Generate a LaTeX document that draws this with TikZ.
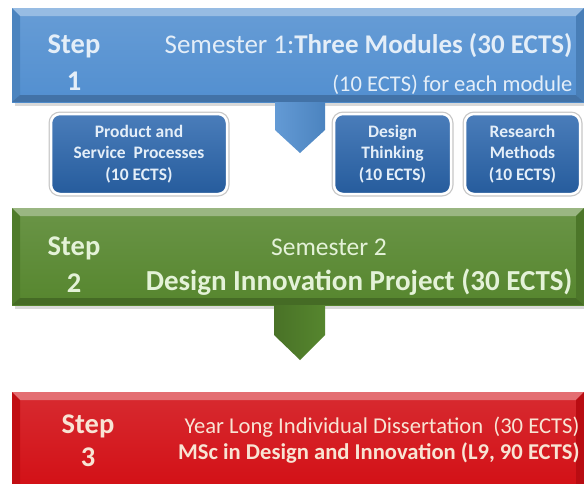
\documentclass[tikz,border=0pt]{standalone}
\usepackage{fontspec}
\setmainfont{Carlito}
\usepackage{xcolor}
\usetikzlibrary{calc}

\definecolor{bandblue}{RGB}{82,143,208}
\definecolor{modblue}{RGB}{42,102,174}
\definecolor{bandgreen}{RGB}{86,134,46}
\definecolor{bandred}{RGB}{210,14,20}
\definecolor{bluetext}{RGB}{228,238,248}
\definecolor{greentext}{RGB}{228,242,216}
\definecolor{redtext}{RGB}{248,228,212}

\begin{document}
\begin{tikzpicture}[x=1pt, y=-1pt,
    steplabel/.style={font=\fontsize{28.5}{37}\selectfont\bfseries, align=center, inner sep=0pt},
    modulebox/.style={rounded corners=9pt, draw=white, line width=2.5pt,
        top color=modblue!85!white, bottom color=modblue!90!black,
        preaction={draw=black!22, line width=5pt},
        minimum height=80pt, align=center, text=bluetext, inner sep=1pt,
        font=\fontsize{17.5}{21.5}\selectfont\bfseries}]
    \clip (0,0) rectangle (584,483);
    \fill[white] (0,0) rectangle (584,483);

    % the three step bands
    \foreach \ytop/\ybot/\col in {8/102/bandblue, 208/305/bandgreen, 392/495/bandred}{
        \fill[black!15] (15,\ytop+3) rectangle (587,\ybot+4);
        \shade[top color=\col!88!white, bottom color=\col] (12,\ytop) rectangle (584,\ybot);
        \fill[\col!60!white] (12,\ytop)--(584,\ytop)--(576,\ytop+8)--(20,\ytop+8)--cycle;
        \fill[\col!92!black] (12,\ytop)--(20,\ytop+8)--(20,\ybot-7)--(12,\ybot)--cycle;
        \fill[\col!80!black] (12,\ybot)--(20,\ybot-7)--(576,\ybot-7)--(584,\ybot)--cycle;
        \fill[\col!88!black] (584,\ytop)--(576,\ytop+8)--(576,\ybot-7)--(584,\ybot)--cycle;
    }

    % arrows below the bands
    \shade[left color=bandblue!90!white, right color=bandblue!92!black]
        (275,102)--(325,102)--(325,130)--(300,153)--(275,130)--cycle;
    \shade[left color=bandgreen!85!black, right color=bandgreen]
        (274,305)--(325,305)--(325,335)--(300,360)--(274,335)--cycle;

    % step 1
    \node[steplabel, text=bluetext] (step1) at (74,63) {Step\\1};
    \node[anchor=east, text=bluetext, font=\fontsize{27}{30}\selectfont] (sem1) at (576,46)
        {Semester 1:\textbf{Three Modules (30 ECTS)}};
    \node[anchor=east, text=bluetext, font=\fontsize{22.5}{25}\selectfont] (sem1sub) at (576,85)
        {(10 ECTS) for each module};

    \node[modulebox, minimum width=176pt] (psp) at (139,154) {Product and\\Service~ Processes\\(10 ECTS)};
    \node[modulebox, minimum width=117pt] (dt) at (392.5,154) {Design\\Thinking\\(10 ECTS)};
    \node[modulebox, minimum width=115pt] (rm) at (522.5,154) {Research\\Methods\\(10 ECTS)};

    % step 2
    \node[steplabel, text=greentext] (step2) at (74,265) {Step\\2};
    \node[text=greentext, font=\fontsize{25.5}{28}\selectfont] (sem2) at (329,247) {Semester 2};
    \node[anchor=east, text=greentext, font=\fontsize{29}{32}\selectfont\bfseries] (dip) at (576,282)
        {Design Innovation Project (30 ECTS)};

    % step 3
    \node[steplabel, text=redtext, font=\fontsize{28.5}{33}\selectfont\bfseries] (step3) at (88,441) {Step\\3};
    \node[anchor=east, text=redtext, font=\fontsize{22.6}{25}\selectfont] (diss) at (583,427)
        {Year Long Individual Dissertation ~(30 ECTS)};
    \node[anchor=east, text=redtext, font=\fontsize{22.6}{25}\selectfont\bfseries] (msc) at (583,453)
        {MSc in Design and Innovation (L9, 90 ECTS)};
\end{tikzpicture}
\end{document}
